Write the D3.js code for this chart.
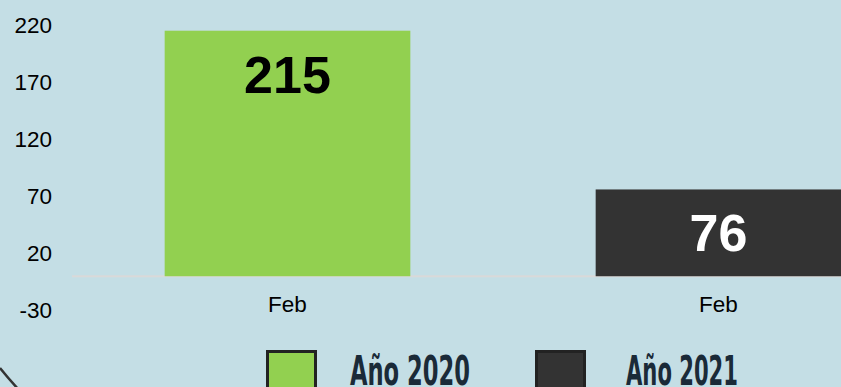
<!DOCTYPE html>
<html>
<head>
<meta charset="utf-8">
<script src="https://cdn.jsdelivr.net/npm/d3@7"></script>
<style>
  html, body { margin: 0; padding: 0; background: #c4dee5; }
  svg { display: block; }
</style>
</head>
<body>
<svg id="chart" width="841" height="387"></svg>
<script>
// Monthly totals: February of each year
const categories = ["Feb", "Feb"];
const seriesNames = ["Año 2020", "Año 2021"];
const seriesValues = [215, 76];
const seriesColors = ["#92d050", "#333333"];
const yTicks = [-30, 20, 70, 120, 170, 220];

const svg = d3.select("#chart");
const W = 841, H = 387;

svg.append("rect").attr("width", W).attr("height", H).attr("fill", "#c4dee5");

const y = d3.scaleLinear().domain([-30, 220]).range([310.5, 25]);
const x = d3.scaleBand()
  .domain(d3.range(categories.length))
  .range([72, 934])
  .paddingInner(0.43)
  .paddingOuter(0.215);

// baseline at zero
svg.append("line")
  .attr("x1", 72).attr("x2", W)
  .attr("y1", y(0)).attr("y2", y(0))
  .attr("stroke", "#d9d9d9").attr("stroke-width", 2);

// bars
svg.selectAll("rect.bar")
  .data(seriesValues)
  .join("rect")
  .attr("class", "bar")
  .attr("x", (d, i) => x(i))
  .attr("width", x.bandwidth())
  .attr("y", d => y(d))
  .attr("height", d => y(0) - y(d))
  .attr("fill", (d, i) => seriesColors[i]);

// value labels inside the top of each bar
svg.selectAll("text.val")
  .data(seriesValues)
  .join("text")
  .attr("class", "val")
  .attr("x", (d, i) => x(i) + x.bandwidth() / 2)
  .attr("y", d => y(d) + 62)
  .attr("text-anchor", "middle")
  .attr("font-family", "Liberation Sans, Arial, sans-serif")
  .attr("font-weight", "bold")
  .attr("font-size", 52)
  .attr("fill", (d, i) => i === 0 ? "#000000" : "#ffffff")
  .text(d => d);

// y axis labels
const yAxis = d3.axisLeft(y).tickValues(yTicks).tickFormat(d => String(d)).tickSize(0).tickPadding(0);
const gy = svg.append("g").attr("transform", "translate(52,0)").call(yAxis);
gy.select(".domain").remove();
gy.selectAll("text")
  .attr("font-family", "Liberation Sans, Arial, sans-serif")
  .attr("font-size", 22.5)
  .attr("fill", "#000");

// x axis labels
const xAxis = d3.axisBottom(x).tickFormat(i => categories[i]).tickSize(0).tickPadding(0);
const gx = svg.append("g").attr("transform", "translate(0,296)").call(xAxis);
gx.select(".domain").remove();
gx.selectAll("text")
  .attr("font-family", "Liberation Sans, Arial, sans-serif")
  .attr("font-size", 22.5)
  .attr("fill", "#000");

// legend
const legendX = [266, 535];
const legend = svg.selectAll("g.leg")
  .data(seriesNames)
  .join("g")
  .attr("class", "leg")
  .attr("transform", (d, i) => `translate(${legendX[i]},350)`);
legend.append("rect")
  .attr("x", 1.5).attr("y", 1.5)
  .attr("width", 48).attr("height", 40)
  .attr("fill", (d, i) => seriesColors[i])
  .attr("stroke", "#222222").attr("stroke-width", 3);
legend.append("text")
  .attr("x", (d, i) => i === 0 ? 84 : 91)
  .attr("y", 35)
  .attr("font-family", "Liberation Sans Narrow, DejaVu Sans Condensed, sans-serif")
  .attr("font-weight", "bold")
  .attr("font-size", 41)
  .attr("textLength", (d, i) => i === 0 ? 120 : 112)
  .attr("lengthAdjust", "spacingAndGlyphs")
  .attr("fill", "#1a2a38")
  .text(d => d);

// decorative arc in the lower-left corner
svg.append("path")
  .attr("d", "M0,368 Q8,378 19,390")
  .attr("fill", "none")
  .attr("stroke", "#333333")
  .attr("stroke-width", 2.5);
</script>
</body>
</html>
